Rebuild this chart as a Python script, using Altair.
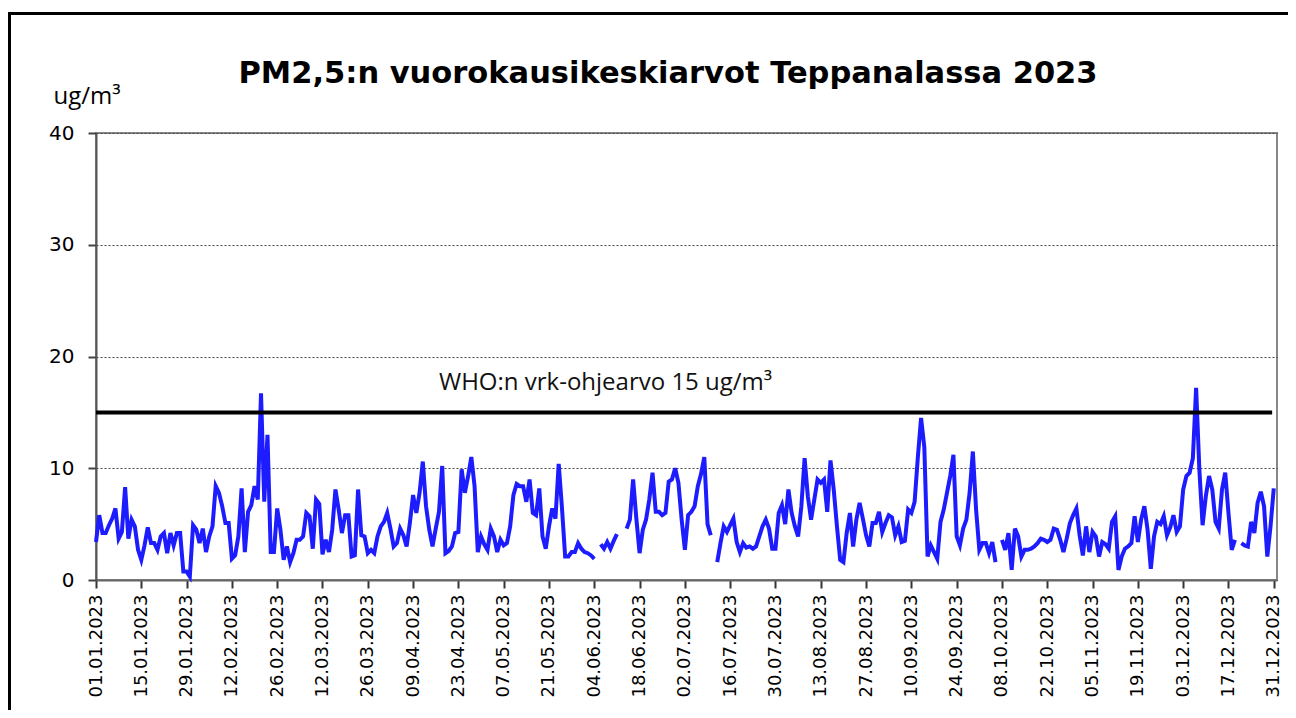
import altair as alt
import pandas as pd

# Daily PM2.5 values (ug/m3); None = missing day
jan_feb = [3.4, 5.8, 4.2, 4.2, 4.9, 5.5, 6.4, 3.7, 4.3, 8.3,
           3.7, 5.4, 4.8, 2.7, 1.8, 3.1, 4.7, 3.3, 3.3, 2.7,
           3.9, 4.2, 2.4, 4.2, 3.1, 4.2, 4.2, 0.75, 0.75, 0.3,
           4.9, 4.5, 3.3, 4.6, 2.5, 3.9, 4.8, 8.4, 7.8, 6.6,
           5.1, 5.1, 1.9, 2.2, 3.9, 8.2, 2.5, 6.1, 6.7, 8.4,
           7.2, 16.7, 7.0, 13.0, 2.5, 2.5, 6.4, 4.5, 1.8, 3.0,
           1.6, 2.4]
mar_may = [3.6, 3.6, 3.9, 6.0, 5.7, 2.8, 7.2, 6.8, 2.3, 3.6,
           2.5, 4.5, 8.1, 6.3, 4.2, 5.8, 5.8, 2.1, 2.2, 8.1,
           4.0, 3.9, 2.4, 2.7, 2.4, 3.9, 4.8, 5.2, 6.0, 4.6,
           3.0, 3.3, 4.6, 4.0, 3.0, 5.1, 7.6, 6.0, 7.8, 10.6,
           6.6, 4.5, 3.0, 4.6, 6.1, 10.2, 2.4, 2.6, 3.0, 4.2,
           4.3, 9.9, 7.8, 9.3, 11.0, 8.4, 2.5, 3.9, 3.2, 2.7,
           4.6, 3.9, 2.5, 3.6, 3.1, 3.3, 4.8]
may_jul = [7.6, 8.6, 8.4, 8.4, 7.0, 9.0, 6.0, 5.8, 8.2, 3.9,
           2.8, 4.8, 6.4, 5.5, 10.4, 6.5, 2.1, 2.1, 2.5, 2.5,
           3.3, 2.8, 2.5, 2.4, 2.2, 1.9, None, 3.2, 2.8, 3.4,
           2.8, 3.5, 4.1, None, None, 4.6, 5.4, 9.0, 5.5, 2.4,
           4.5, 5.4, 7.2, 9.6, 6.1, 6.1, 5.8, 6.0, 8.8, 9.0,
           10.0, 8.7, 5.4, 2.7, 5.8, 6.1, 6.6, 8.4, 9.5, 11.0,
           5.0, 4.0]
jul_sep = [None, 1.6, 3.3, 4.8, 4.3, 4.9, 5.5, 3.4, 2.5, 3.3,
           2.9, 3.0, 2.8, 3.0, 3.9, 4.8, 5.4, 4.6, 2.8, 2.8,
           6.0, 6.7, 5.0, 8.1, 6.0, 4.8, 3.9, 6.6, 10.9, 7.5,
           5.4, 7.2, 9.0, 8.7, 9.0, 6.1, 10.7, 8.1, 4.8, 1.8,
           1.6, 4.2, 6.0, 3.0, 5.4, 6.9, 5.5, 4.0, 3.0, 5.1,
           5.1, 6.1, 4.3, 5.1, 5.8]
sep_nov = [5.6, 4.0, 4.8, 3.4, 3.5, 6.3, 6.0, 7.0, 11.0, 14.5,
           11.9, 2.1, 3.1, 2.5, 1.9, 5.2, 6.3, 7.8, 9.3, 11.2,
           3.9, 3.1, 4.6, 5.4, 7.8, 11.5, 6.3, 2.7, 3.3, 3.3,
           2.4, 3.4, 1.6, None, 3.6, 2.7, 4.2, 0.9, 4.6, 3.9,
           2.1, 2.7, 2.7, 2.8, 3.0, 3.3, 3.7, 3.6, 3.4, 3.6,
           4.6, 4.5, 3.6, 2.5, 3.7, 5.1, 5.8, 6.4, 4.0, 2.2]
nov_dec = [4.8, 2.5, 4.3, 3.9, 2.1, 3.4, 3.2, 2.8, 5.2, 5.7,
           0.9, 2.1, 2.8, 3.0, 3.3, 5.7, 3.4, 5.4, 6.6, 4.5,
           1.0, 3.9, 5.2, 5.0, 5.7, 4.0, 4.7, 5.8, 4.3, 4.8,
           8.1, 9.3, 9.6, 10.9, 17.2, 9.9, 4.9, 7.5, 9.3, 8.1,
           5.2, 4.6, 8.1, 9.6, 6.0, 2.7, 3.6, None, 3.3, 3.1,
           3.0, 5.2, 4.2, 6.9, 7.9, 6.6, 2.1, 4.8, 8.2]

values = jan_feb + mar_may + may_jul + jul_sep + sep_nov + nov_dec
assert len(values) == 365

title_text = "PM2,5:n vuorokausikeskiarvot Teppanalassa 2023"
y_title = "ug/m³"
who_label = "WHO:n vrk-ohjearvo 15 ug/m³"
who_value = 15
y_ticks = [0, 10, 20, 30, 40]
tick_dates = pd.date_range("2023-01-01", "2023-12-31", freq="14D")

dates = pd.date_range("2023-01-01", periods=365, freq="D")
seg_ids = []
s = 0
prev_null = False
for v in values:
    if v is None:
        prev_null = True
        seg_ids.append(None)
    else:
        if prev_null:
            s += 1
            prev_null = False
        seg_ids.append(s)

df = pd.DataFrame({"date": dates.strftime("%Y-%m-%d"),
                   "y": [float("nan") if v is None else v for v in values],
                   "seg": seg_ids})
df = df.dropna(subset=["y"])
df["seg"] = df["seg"].astype(int)

tick_ms = [int(t.value // 10**6) for t in tick_dates]
dom = [int(pd.Timestamp("2023-01-01").value // 10**6),
       int(pd.Timestamp("2024-01-01").value // 10**6)]

W, H = 1181, 447

x_axis = alt.Axis(values=tick_ms, labelExpr="utcFormat(datum.value, '%d.%m.%Y')",
                  labelAngle=270, labelFont="DejaVu Sans", labelFontSize=18,
                  labelColor="black", labelPadding=6, labelFlush=False,
                  labelOverlap=False, labelBound=False,
                  tickSize=8, tickColor="#333", tickWidth=2,
                  domainColor="#666", domainWidth=2, grid=False)
x_scale = alt.Scale(type="utc", domain=dom)

y_axis = alt.Axis(values=y_ticks, title=y_title, titleAngle=0,
                  titleAlign="left", titleBaseline="alphabetic",
                  titleX=-43, titleY=-30, titleFont="Open Sans",
                  titleFontSize=24, titleFontWeight="normal", titleColor="black",
                  labelFont="DejaVu Sans", labelFontSize=20, labelColor="black",
                  labelPadding=14, tickSize=8, tickColor="#444", tickWidth=2,
                  domainColor="#555", domainWidth=2,
                  grid=True, gridColor="#444", gridDash=[2, 2], gridWidth=1)
y_scale = alt.Scale(domain=[0, 40], nice=False)


def xe():
    return alt.X("date:T", scale=x_scale, axis=x_axis, title=None)


def ye():
    return alt.Y("y:Q", scale=y_scale, axis=y_axis, title=y_title)


line = alt.Chart(df).mark_line(color="#1c1cff", strokeWidth=4).encode(
    x=xe(), y=ye(), detail="seg:N")

rule_df = pd.DataFrame({"date": ["2023-01-01"], "end": ["2023-12-30T12:00:00Z"],
                        "y": [who_value]})
rule = alt.Chart(rule_df).mark_rule(color="black", strokeWidth=4).encode(
    x=xe(), x2="end:T", y=ye())

text_df = pd.DataFrame({"date": ["2023-04-17"], "y": [17.0], "label": [who_label]})
who_text = alt.Chart(text_df).mark_text(align="left", baseline="alphabetic",
                                        font="Open Sans", fontSize=24, color="#111").encode(
    x=xe(), y=ye(), text="label:N")

title_df = pd.DataFrame({"label": [title_text]})
title = alt.Chart(title_df).mark_text(align="center", baseline="alphabetic",
                                      font="DejaVu Sans", fontSize=30.5, fontWeight="bold",
                                      color="black").encode(
    x=alt.value(572), y=alt.value(-50), text="label:N")

frame_df = pd.DataFrame({"k": [0]})
frame = alt.Chart(frame_df).mark_rect(fillOpacity=0, stroke="black", strokeWidth=3).encode(
    x=alt.value(-86.5), x2=alt.value(1210), y=alt.value(-119.5), y2=alt.value(700))

chart = alt.layer(frame, line, rule, who_text, title).properties(
    width=W, height=H,
    autosize=alt.AutoSizeParams(type="none"),
    padding={"left": 88, "top": 125, "right": 11, "bottom": 130},
).configure_view(stroke="#888", strokeWidth=2)

chart.save("out.html", embed_options={"renderer": "svg", "actions": False})
